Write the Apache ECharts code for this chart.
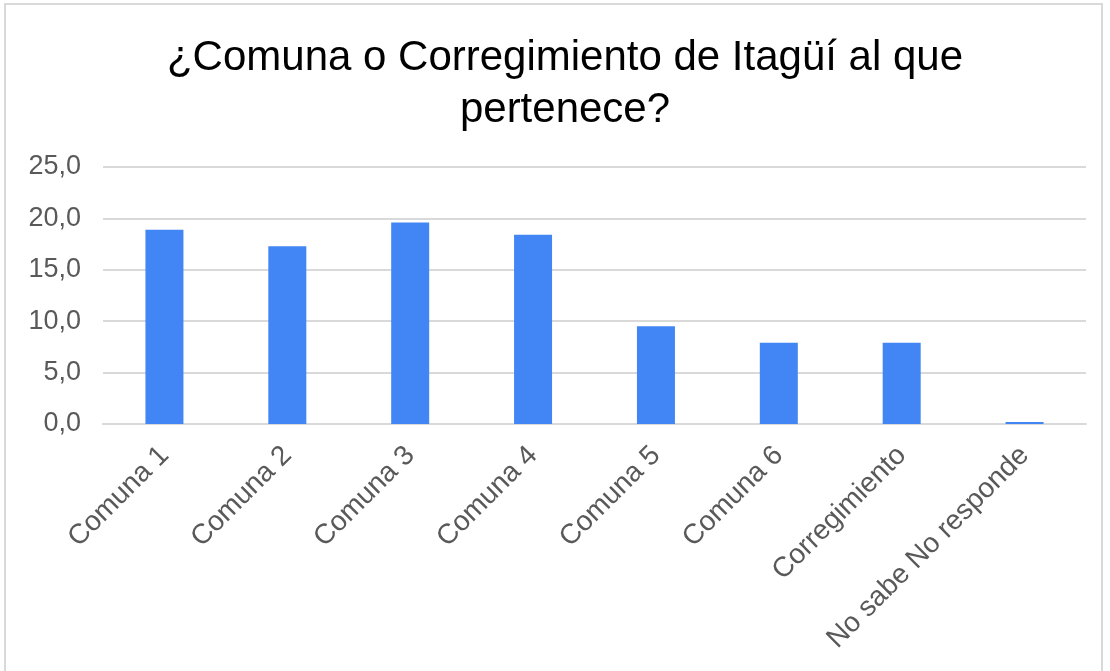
<!DOCTYPE html>
<html>
<head>
<meta charset="utf-8">
<script src="https://cdn.jsdelivr.net/npm/echarts@6/dist/echarts.min.js"></script>
<style>
    html, body { margin: 0; padding: 0; background: #fff; }
    #frame { position: absolute; left: 4px; top: 3px; width: 1099px; height: 700px; border: 2px solid #d9d9d9; box-sizing: border-box; }
    #chart { position: absolute; left: 0; top: 0; width: 1110px; height: 671px; }
</style>
</head>
<body>
<div id="frame"></div>
<div id="chart"></div>
<script>
(function () {

    'use strict';

    // categorías del eje x
    var categories = ['Comuna 1', 'Comuna 2', 'Comuna 3', 'Comuna 4', 'Comuna 5', 'Comuna 6', 'Corregimiento', 'No sabe No responde'];
    // porcentaje por categoría
    var values = [18.9, 17.3, 19.6, 18.4, 9.5, 7.9, 7.9, 0.2];
    // marcas del eje y
    var yTicks = [0, 5, 10, 15, 20, 25];

    var myChart = echarts.init(document.getElementById('chart'));

    var font = 'Liberation Sans, Arial, sans-serif';

    var option = {
        title: {
            text: '¿Comuna o Corregimiento de Itagüí al que\npertenece?',
            left: 560,
            top: 27,
            textAlign: 'center',
            textStyle: {
                fontFamily: font,
                fontSize: 42,
                fontWeight: 'normal',
                color: '#000',
                lineHeight: 52
            }
        },
        grid: {
            left: 103,
            right: 24,
            top: 167,
            bottom: 247
        },
        xAxis: {
            type: 'category',
            data: categories,
            axisLine: { lineStyle: { color: '#d9d9d9', width: 2 } },
            axisTick: { show: false },
            axisLabel: {
                rotate: 45,
                interval: 0,
                margin: 27,
                fontFamily: font,
                fontSize: 28,
                color: '#595959'
            }
        },
        yAxis: {
            type: 'value',
            min: yTicks[0],
            max: yTicks[yTicks.length - 1],
            interval: 5,
            axisLine: { show: false },
            axisTick: { show: false },
            splitLine: { lineStyle: { color: '#d9d9d9', width: 2 } },
            axisLabel: {
                margin: 22,
                fontFamily: font,
                fontSize: 27,
                color: '#595959',
                formatter: function (v) {
                    return v.toFixed(1).replace('.', ',');
                }
            }
        },
        series: [{
            type: 'bar',
            data: values,
            barWidth: 38,
            itemStyle: { color: '#4285F4' }
        }]
    };

    myChart.setOption(option);
})();
</script>
</body>
</html>
